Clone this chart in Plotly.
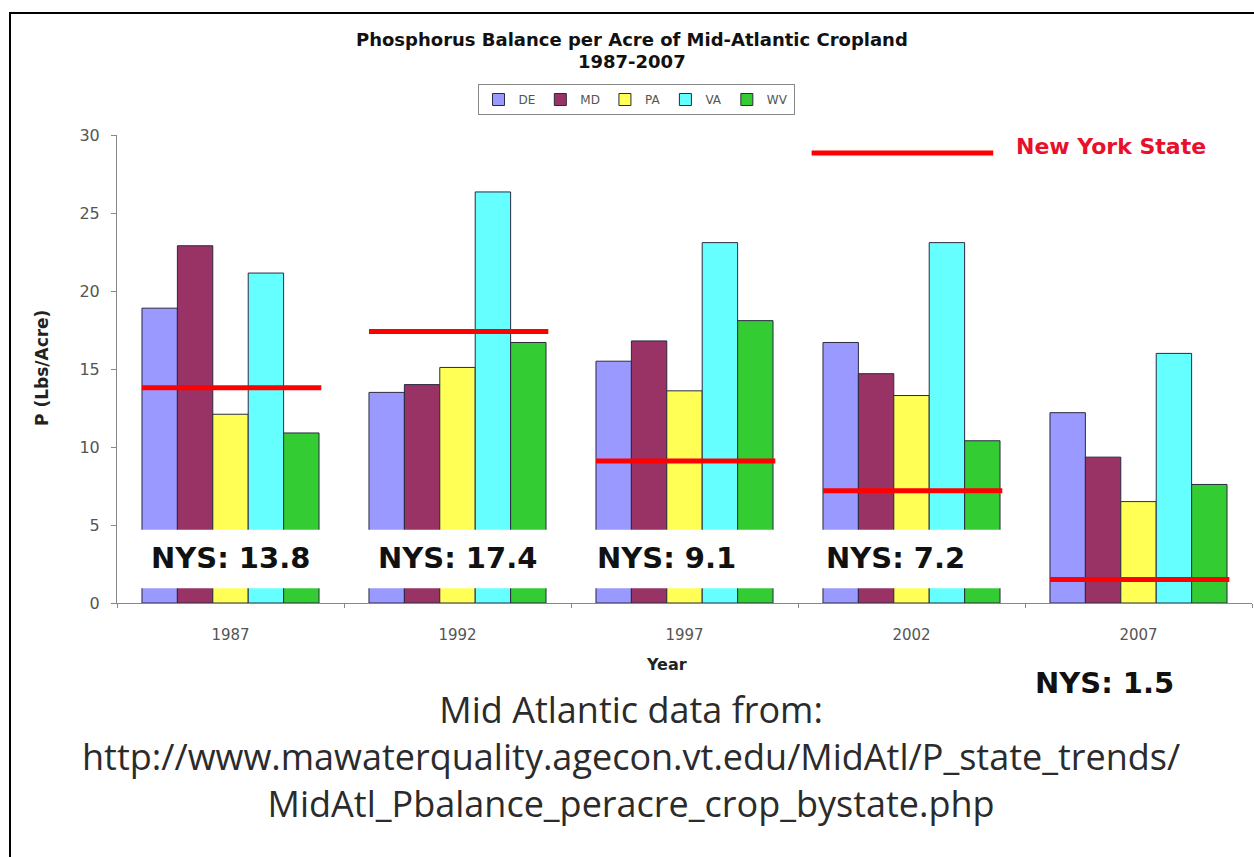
import plotly.graph_objects as go

# Phosphorus balance per acre of cropland (lbs/acre), by state and census year
years = ["1987", "1992", "1997", "2002", "2007"]
states = ["DE", "MD", "PA", "VA", "WV"]
de = [18.9, 13.5, 15.5, 16.7, 12.2]
md = [22.9, 14.0, 16.8, 14.7, 9.35]
pa = [12.1, 15.1, 13.6, 13.3, 6.5]
va = [21.15, 26.35, 23.1, 23.1, 16.0]
wv = [10.9, 16.7, 18.1, 10.4, 7.6]
nys = [13.8, 17.4, 9.1, 7.2, 1.5]

series = [de, md, pa, va, wv]
colors = ["#9999FF", "#993366", "#FFFF55", "#66FFFF", "#33CC33"]

W, H = 1254, 857


def px_x(p):
    return p / W


def px_y(p):
    return 1 - p / H


fig = go.Figure()
for name, vals, col in zip(states, series, colors):
    fig.add_trace(go.Bar(
        x=years, y=vals, name=name,
        marker=dict(color=col, line=dict(color="#2a2a40", width=1)),
    ))

shapes = []
annotations = []

# white panels behind the NYS value labels (all years except the last)
for i in range(len(years) - 1):
    shapes.append(dict(type="rect", xref="x", yref="y",
                       x0=i - 0.47, x1=i + 0.47, y0=0.95, y1=4.7,
                       fillcolor="white", line=dict(width=0), layer="above"))

# New York State level for each year
for i, v in enumerate(nys):
    shapes.append(dict(type="line", xref="x", yref="y",
                       x0=i - 0.39, x1=i + 0.4, y0=v, y1=v,
                       line=dict(color="#FF0000", width=5), layer="above"))

# key for the red line
shapes.append(dict(type="line", xref="x", yref="y",
                   x0=2.56, x1=3.36, y0=28.85, y1=28.85,
                   line=dict(color="#FF0000", width=5), layer="above"))
annotations.append(dict(text="New York State", xref="paper", yref="paper",
                        x=px_x(1014), y=px_y(147), xanchor="left", yanchor="middle",
                        showarrow=False,
                        font=dict(family="DejaVu Sans", size=22, color="#E8102A",
                                  weight="bold")))

# NYS value labels
label_dx = [0.0, 0.0, -0.08, -0.07, -0.15]
label_py = [558, 558, 558, 558, 683]
for i, v in enumerate(nys):
    annotations.append(dict(text=f"NYS: {v}", xref="x", yref="paper",
                            x=i + label_dx[i], y=px_y(label_py[i]),
                            xanchor="center", yanchor="middle", showarrow=False,
                            font=dict(family="DejaVu Sans", size=29, color="#111111",
                                      weight="bold")))

# chart title
for txt, yp in [("Phosphorus Balance per Acre of Mid-Atlantic Cropland", 40),
                ("1987-2007", 61)]:
    annotations.append(dict(text=txt, xref="paper", yref="paper",
                            x=px_x(632), y=px_y(yp),
                            xanchor="center", yanchor="middle", showarrow=False,
                            font=dict(family="DejaVu Sans", size=18, color="#111111",
                                      weight="bold")))

# axis titles
annotations.append(dict(text="P (Lbs/Acre)", xref="paper", yref="paper",
                        x=px_x(42), y=px_y(368), textangle=-90,
                        xanchor="center", yanchor="middle", showarrow=False,
                        font=dict(family="DejaVu Sans", size=17, color="#222222",
                                  weight="bold")))
annotations.append(dict(text="Year", xref="paper", yref="paper",
                        x=px_x(666), y=px_y(664),
                        xanchor="center", yanchor="middle", showarrow=False,
                        font=dict(family="DejaVu Sans", size=16, color="#222222",
                                  weight="bold")))

# source note
annotations.append(dict(
    text=("Mid Atlantic data from:<br>"
          "http://www.mawaterquality.agecon.vt.edu/MidAtl/P_state_trends/<br>"
          "MidAtl_Pbalance_peracre_crop_bystate.php"),
    xref="paper", yref="paper", x=px_x(631), y=px_y(756),
    xanchor="center", yanchor="middle", align="center", showarrow=False,
    font=dict(family="Open Sans", size=36, color="#2b2b2b")))

# slide frame
shapes.append(dict(type="rect", xref="paper", yref="paper",
                   x0=px_x(10), x1=1.02, y0=-0.02, y1=px_y(13),
                   line=dict(color="black", width=2), fillcolor="rgba(0,0,0,0)",
                   layer="above"))

fig.update_layout(
    width=W, height=H,
    margin=dict(l=0, r=0, t=0, b=0, pad=0),
    paper_bgcolor="white", plot_bgcolor="white",
    barmode="group", bargap=0.22, bargroupgap=0,
    legend=dict(orientation="h", x=px_x(636), xanchor="center",
                y=px_y(84), yanchor="top",
                bordercolor="#888888", borderwidth=1, bgcolor="white",
                font=dict(family="DejaVu Sans", size=12, color="#555555"),
                itemwidth=30, traceorder="normal"),
    xaxis=dict(domain=[px_x(117), px_x(1252)], type="category",
               automargin=False,
               showline=True, linecolor="#888888", linewidth=1,
               ticks="outside", tickson="boundaries", ticklen=4,
               tickcolor="#888888", ticklabelstandoff=18,
               tickfont=dict(family="DejaVu Sans", size=15, color="#555555"),
               showgrid=False, zeroline=False),
    yaxis=dict(domain=[px_y(603), px_y(135)], range=[0, 30],
               automargin=False,
               tickvals=[0, 5, 10, 15, 20, 25, 30],
               showline=True, linecolor="#888888", linewidth=1,
               ticks="outside", ticklen=5, tickcolor="#888888",
               ticklabelstandoff=8,
               tickfont=dict(family="DejaVu Sans", size=16, color="#555555"),
               showgrid=False, zeroline=False),
    shapes=shapes,
    annotations=annotations,
)

fig.write_html("out.html")
